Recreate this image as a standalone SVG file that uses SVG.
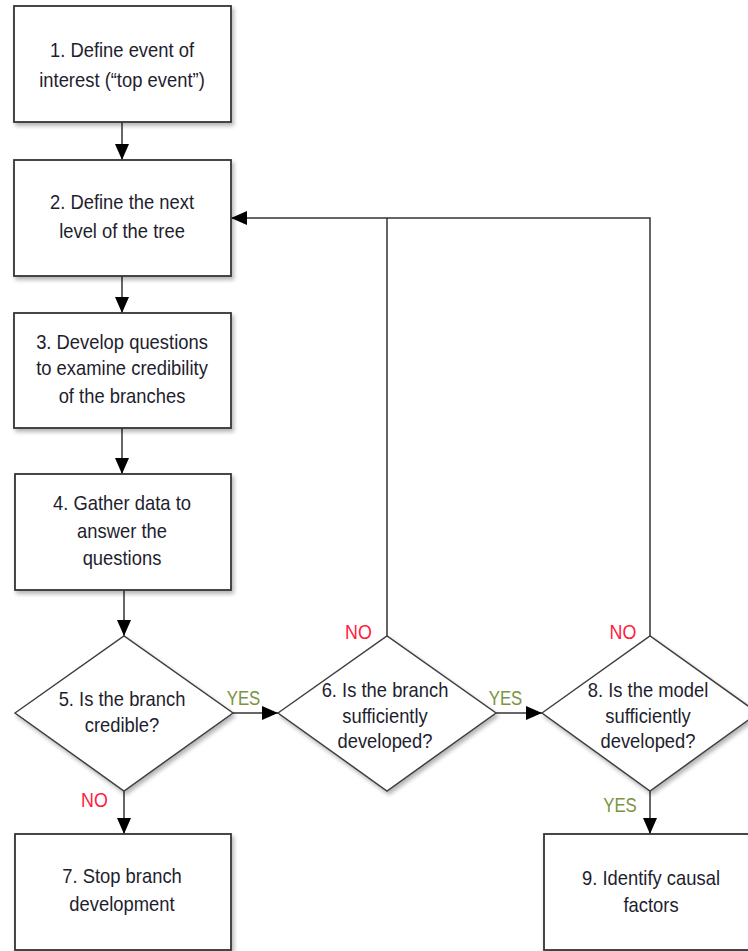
<svg xmlns="http://www.w3.org/2000/svg" width="748" height="951" viewBox="0 0 748 951">
<style>
.box{fill:#fff;stroke:#333;stroke-width:1.8;filter:url(#sh)}
.dia{fill:#fff;stroke:#404040;stroke-width:1.5;filter:url(#sh)}
.t{font-family:"Liberation Sans",Arial,sans-serif;font-size:20px;fill:#1e1e2e;text-anchor:middle}
.lbl{font-family:"Liberation Sans",Arial,sans-serif;font-size:21px;text-anchor:middle}
.no{fill:#ff2040}
.yes{fill:#7a9444}
.c{fill:none;stroke:#333;stroke-width:1.5}
</style>
<defs>
<filter id="sh" x="-10%" y="-10%" width="130%" height="130%">
<feGaussianBlur in="SourceAlpha" stdDeviation="2"/>
<feOffset dx="2" dy="3" result="b"/>
<feComponentTransfer><feFuncA type="linear" slope="0.3"/></feComponentTransfer>
<feMerge><feMergeNode/><feMergeNode in="SourceGraphic"/></feMerge>
</filter>
<marker id="ah" markerUnits="userSpaceOnUse" markerWidth="16" markerHeight="14" refX="16" refY="7" orient="auto">
<path d="M0,0 L16,7 L0,14 z" fill="#000"/>
</marker>
</defs>
<rect width="748" height="951" fill="#fff"/>

<g id="connectors">
<line class="c" x1="122" y1="122" x2="122" y2="160" marker-end="url(#ah)"/>
<line class="c" x1="122" y1="276" x2="122" y2="313" marker-end="url(#ah)"/>
<line class="c" x1="122" y1="428" x2="122" y2="474" marker-end="url(#ah)"/>
<line class="c" x1="124" y1="590" x2="124" y2="636" marker-end="url(#ah)"/>
<line class="c" x1="124" y1="791" x2="124" y2="834" marker-end="url(#ah)"/>
<line class="c" x1="233" y1="713" x2="278" y2="713" marker-end="url(#ah)"/>
<line class="c" x1="496" y1="713" x2="542" y2="713" marker-end="url(#ah)"/>
<line class="c" x1="650" y1="791" x2="650" y2="834" marker-end="url(#ah)"/>
<polyline class="c" points="387,636 387,218"/>
<polyline class="c" points="650,636 650,218 231,218" marker-end="url(#ah)"/>
<g class="lbl">
<text class="no" x="94.5" y="807" transform="translate(94.5,0) scale(0.85,1) translate(-94.5,0)">NO</text>
<text class="yes" x="243.5" y="705" transform="translate(243.5,0) scale(0.8,1) translate(-243.5,0)">YES</text>
<text class="no" x="358.5" y="639" transform="translate(358.5,0) scale(0.85,1) translate(-358.5,0)">NO</text>
<text class="yes" x="505.5" y="705" transform="translate(505.5,0) scale(0.8,1) translate(-505.5,0)">YES</text>
<text class="no" x="623" y="639" transform="translate(623,0) scale(0.85,1) translate(-623,0)">NO</text>
<text class="yes" x="620" y="812" transform="translate(620,0) scale(0.8,1) translate(-620,0)">YES</text>
</g>
</g>

<g id="n1">
<rect class="box" x="14" y="6" width="217" height="116"/>
<g transform="translate(122,0) scale(0.92,1)"><text class="t" x="0" y="57">1. Define event of</text><text class="t" x="0" y="87">interest (“top event”)</text></g>
</g>
<g id="n2">
<rect class="box" x="14" y="160" width="217" height="116"/>
<g transform="translate(122,0) scale(0.92,1)"><text class="t" x="0" y="209">2. Define the next</text><text class="t" x="0" y="238">level of the tree</text></g>
</g>
<g id="n3">
<rect class="box" x="14" y="313" width="217" height="115"/>
<g transform="translate(122,0) scale(0.92,1)"><text class="t" x="0" y="349">3. Develop questions</text><text class="t" x="0" y="375">to examine credibility</text><text class="t" x="0" y="403">of the branches</text></g>
</g>
<g id="n4">
<rect class="box" x="15" y="474" width="216" height="116"/>
<g transform="translate(122,0) scale(0.92,1)"><text class="t" x="0" y="510">4. Gather data to</text><text class="t" x="0" y="538">answer the</text><text class="t" x="0" y="565">questions</text></g>
</g>
<g id="n5">
<polygon class="dia" points="15,713 124,636 233,713 124,791"/>
<g transform="translate(122,0) scale(0.92,1)"><text class="t" x="0" y="706">5. Is the branch</text><text class="t" x="0" y="732">credible?</text></g>
</g>
<g id="n6">
<polygon class="dia" points="278,713 387,636 496,713 387,791"/>
<g transform="translate(385,0) scale(0.92,1)"><text class="t" x="0" y="697">6. Is the branch</text><text class="t" x="0" y="723">sufficiently</text><text class="t" x="0" y="748">developed?</text></g>
</g>
<g id="n8">
<polygon class="dia" points="542,713 650,636 758,713 650,791"/>
<g transform="translate(648,0) scale(0.92,1)"><text class="t" x="0" y="697">8. Is the model</text><text class="t" x="0" y="723">sufficiently</text><text class="t" x="0" y="748">developed?</text></g>
</g>
<g id="n7">
<rect class="box" x="15" y="834" width="216" height="116"/>
<g transform="translate(122,0) scale(0.92,1)"><text class="t" x="0" y="883">7. Stop branch</text><text class="t" x="0" y="911">development</text></g>
</g>
<g id="n9">
<rect class="box" x="544" y="834" width="220" height="116"/>
<g transform="translate(651,0) scale(0.92,1)"><text class="t" x="0" y="885">9. Identify causal</text><text class="t" x="0" y="912">factors</text></g>
</g>
</svg>
